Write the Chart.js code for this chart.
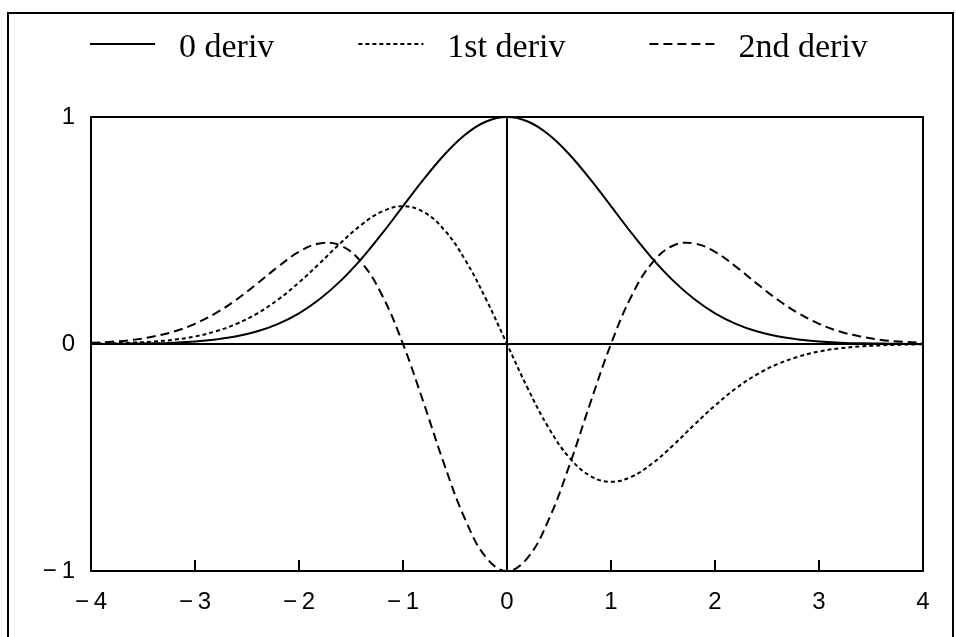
<!DOCTYPE html>
<html>
<head>
<meta charset="utf-8">
<script src="https://cdn.jsdelivr.net/npm/chart.js@4.4.0/dist/chart.umd.min.js"></script>
<style>
    html, body { margin: 0; padding: 0; background: #fff; }
    #wrap { width: 956px; height: 637px; }
</style>
</head>
<body>
<div id="wrap"><canvas id="derivs"></canvas></div>
<script>
// sample positions along x
const xs = [
    -4.0, -3.8, -3.6, -3.4, -3.2, -3.0, -2.8, -2.6, -2.4, -2.2, -2.0,
    -1.8, -1.6, -1.4, -1.2, -1.0, -0.8, -0.6, -0.4, -0.2, 0.0,
    0.2, 0.4, 0.6, 0.8, 1.0, 1.2, 1.4, 1.6, 1.8, 2.0,
    2.2, 2.4, 2.6, 2.8, 3.0, 3.2, 3.4, 3.6, 3.8, 4.0,
];

const deriv0 = [
    0.000, 0.001, 0.002, 0.003, 0.006, 0.011, 0.020, 0.034, 0.056, 0.089, 0.135,
    0.198, 0.278, 0.375, 0.487, 0.607, 0.726, 0.835, 0.923, 0.980, 1.000,
    0.980, 0.923, 0.835, 0.726, 0.607, 0.487, 0.375, 0.278, 0.198, 0.135,
    0.089, 0.056, 0.034, 0.020, 0.011, 0.006, 0.003, 0.002, 0.001, 0.000,
];

const deriv1 = [
    0.001, 0.003, 0.006, 0.011, 0.019, 0.033, 0.056, 0.089, 0.135, 0.196, 0.271,
    0.356, 0.445, 0.525, 0.584, 0.607, 0.581, 0.501, 0.369, 0.196, 0.000,
    -0.196, -0.369, -0.501, -0.581, -0.607, -0.584, -0.525, -0.445, -0.356, -0.271,
    -0.196, -0.135, -0.089, -0.056, -0.033, -0.019, -0.011, -0.006, -0.003, -0.001,
];

const deriv2 = [
    0.005, 0.010, 0.018, 0.033, 0.055, 0.089, 0.136, 0.196, 0.267, 0.341, 0.406,
    0.443, 0.434, 0.360, 0.214, 0.000, -0.261, -0.535, -0.775, -0.941, -1.000,
    -0.941, -0.775, -0.535, -0.261, 0.000, 0.214, 0.360, 0.434, 0.443, 0.406,
    0.341, 0.267, 0.196, 0.136, 0.089, 0.055, 0.033, 0.018, 0.010, 0.005,
];

const seriesLabels = ["0 deriv", "1st deriv", "2nd deriv"];
const seriesDash = [[], [4, 3], [9, 5]];

const toPoints = (ys) => xs.map((x, i) => ({ x: x, y: ys[i] }));

// long minus with a thin gap before the digit
const minusLabel = (v) => (v < 0 ? "\u2212\u2009" + Math.abs(v) : String(v));

// white page, outer frame, plot box and the short ticks on the bottom axis
const framePlugin = {
    id: "frame",
    beforeDraw(chart) {
        const ctx = chart.ctx;
        ctx.save();
        ctx.fillStyle = "#fff";
        ctx.fillRect(0, 0, chart.width, chart.height);
        ctx.restore();
    },
    afterDraw(chart) {
        const ctx = chart.ctx;
        const { left, top, right, bottom } = chart.chartArea;
        ctx.save();
        ctx.strokeStyle = "#000";
        ctx.lineWidth = 2;
        ctx.strokeRect(8, 13, 945, 660);
        ctx.strokeRect(left, top, right - left, bottom - top);

        const xScale = chart.scales.x;
        xScale.ticks.forEach((t) => {
            const px = xScale.getPixelForValue(t.value);
            ctx.beginPath();
            ctx.moveTo(px, bottom);
            ctx.lineTo(px, bottom - 11);
            ctx.stroke();
        });
        ctx.restore();
    },
};

// legend in one row: sample line followed by the series name
const lineLegend = {
    id: "lineLegend",
    afterDraw(chart, args, opts) {
        const ctx = chart.ctx;
        ctx.save();
        ctx.font = "34px 'Liberation Serif'";
        ctx.fillStyle = "#000";
        ctx.textBaseline = "alphabetic";
        let x = opts.x;
        chart.data.datasets.forEach((ds) => {
            ctx.strokeStyle = ds.borderColor;
            ctx.lineWidth = 2;
            ctx.setLineDash(ds.borderDash || []);
            ctx.beginPath();
            ctx.moveTo(x, opts.lineY);
            ctx.lineTo(x + opts.lineLen, opts.lineY);
            ctx.stroke();
            ctx.setLineDash([]);
            let tx = x + opts.lineLen + opts.gap;
            ctx.fillText(ds.label, tx, opts.textY);
            x = tx + ctx.measureText(ds.label).width + opts.itemGap;
        });
        ctx.restore();
    },
};

let zeroLine = (c) => (c.tick && c.tick.value === 0 ? "#000" : "rgba(0,0,0,0)");

let ctx = document.getElementById("derivs").getContext("2d");

let data = {
    datasets: [deriv0, deriv1, deriv2].map((ys, i) => ({
        label: seriesLabels[i],
        data: toPoints(ys),
        borderColor: "#000",
        borderWidth: 2,
        borderDash: seriesDash[i],
        pointRadius: 0,
        tension: 0.4,
        fill: false,
    })),
};

let options = {
    responsive: true,
    maintainAspectRatio: false,
    animation: false,
    layout: {
        padding: { top: 117, right: 33, left: 0, bottom: 0 },
    },
    plugins: {
        legend: { display: false },
        tooltip: { enabled: false },
        lineLegend: {
            x: 90,
            lineY: 44,
            textY: 57,
            lineLen: 65,
            gap: 24,
            itemGap: 84,
        },
    },
    scales: {
        x: {
            type: "linear",
            min: -4,
            max: 4,
            afterFit: (scale) => {
                scale.height = 66;
            },
            ticks: {
                stepSize: 1,
                padding: 17,
                color: "#000",
                font: { family: "'Liberation Sans'", size: 24 },
                callback: minusLabel,
            },
            grid: {
                color: zeroLine,
                lineWidth: 2,
                drawTicks: false,
            },
            border: { display: false },
        },
        y: {
            min: -1,
            max: 1,
            afterFit: (scale) => {
                scale.width = 91;
            },
            ticks: {
                stepSize: 1,
                padding: 16,
                color: "#000",
                font: { family: "'Liberation Sans'", size: 24 },
                callback: minusLabel,
            },
            grid: {
                color: zeroLine,
                lineWidth: 2,
                drawTicks: false,
            },
            border: { display: false },
        },
    },
};

let myChart = new Chart(ctx, {
    type: "line",
    data: data,
    options: options,
    plugins: [framePlugin, lineLegend],
});
</script>
</body>
</html>
